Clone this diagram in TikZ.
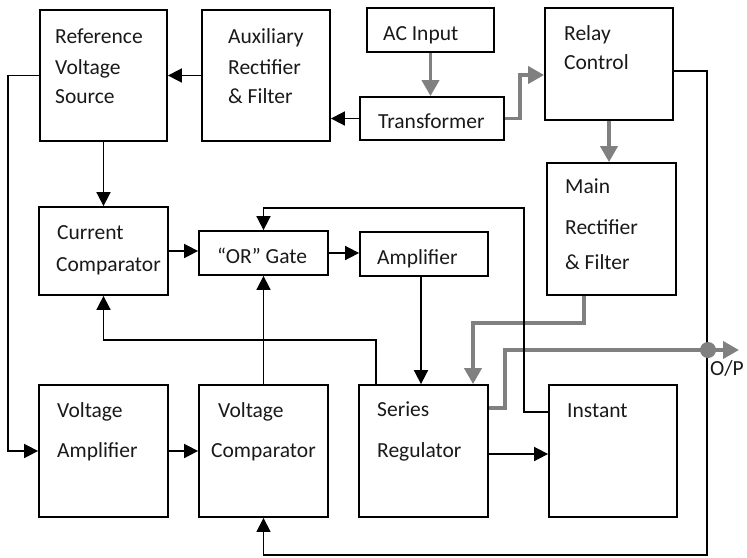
\documentclass[tikz,border=0pt]{standalone}
\usepackage{fontspec}
\setmainfont{Carlito}
\usetikzlibrary{arrows.meta}
\definecolor{pgray}{HTML}{808080}
\tikzset{
  blk/.style 2 args={draw=black, line width=1.8pt, minimum width=#1, minimum height=#2, inner sep=0pt, rectangle},
  txt/.style={anchor=base west, inner sep=0pt, font=\fontsize{21.5}{24}\selectfont, text=black!90},
  wire/.style={draw=black, line width=1.7pt, -{Triangle[length=14pt,width=14pt]}},
  thin/.style={draw=black, line width=1.3pt, -{Triangle[length=14pt,width=14pt]}},
  gwire/.style={draw=pgray, line width=3.8pt, -{Triangle[length=16pt,width=17pt]}},
}
\begin{document}
\begin{tikzpicture}[x=1pt,y=-1pt]
\useasboundingbox (0,0) rectangle (747,557);
% boxes
\node[blk={127}{131}] (ref) at (103.5,75.5) {};
\node[blk={128}{131}] (aux) at (266,75.5) {};
\node[blk={127}{44}] (ac) at (430.5,30) {};
\node[blk={144}{43}] (tr) at (432,118.5) {};
\node[blk={128}{112}] (rc) at (609,64) {};
\node[blk={129}{132}] (mr) at (611.5,229) {};
\node[blk={129}{88}] (cc) at (103.5,251) {};
\node[blk={129}{44}] (or) at (263.5,253) {};
\node[blk={128}{44}] (amp) at (424,254) {};
\node[blk={129}{132}] (va) at (103.5,451) {};
\node[blk={129}{132}] (vc) at (263.5,451) {};
\node[blk={129}{132}] (sr) at (423.5,451) {};
\node[blk={128}{132}] (inst) at (613,451) {};
% texts
\node[txt] (t1) at (55,43) {Reference};
\node[txt] (t2) at (55,74) {Voltage};
\node[txt] (t3) at (55,103) {Source};
\node[txt] (t4) at (228,43) {Auxiliary};
\node[txt] (t5) at (228,74) {Rectifier};
\node[txt] (t6) at (228,103) {\& Filter};
\node[txt] (t7) at (383,40) {AC Input};
\node[txt] (t8) at (378,128) {Transformer};
\node[txt] (t9) at (564,40) {Relay};
\node[txt] (t10) at (564,69) {Control};
\node[txt] (t11) at (565,193) {Main};
\node[txt] (t12) at (565,234) {Rectifier};
\node[txt] (t13) at (565,269) {\& Filter};
\node[txt] (t14) at (57,239) {Current};
\node[txt] (t15) at (56,271) {Comparator};
\node[txt] (t16) at (217,263) {“OR” Gate};
\node[txt] (t17) at (377,264) {Amplifier};
\node[txt] (t18) at (57,417) {Voltage};
\node[txt] (t19) at (57,457) {Amplifier};
\node[txt] (t20) at (218,417) {Voltage};
\node[txt] (t21) at (211,457) {Comparator};
\node[txt] (t22) at (377,416) {Series};
\node[txt] (t23) at (377,457) {Regulator};
\node[txt] (t24) at (567,417) {Instant};
\node[txt] (t25) at (710,375) {O/P};
% gray power lines
\coordinate (dot) at (708,350);
\coordinate (opEnd) at (739,350);
\draw[gwire] (ac.south) -- (ac.south |- tr.north);
\draw[gwire] (tr.east) -- (520,118.5) -- (520,75) -- (rc.west |- 520,75);
\draw[gwire] (rc.south) -- (rc.south |- mr.north);
\draw[gwire] (mr.south -| 584,0) -- (584,323) -- (473,323) -- (sr.north -| 473,0);
\draw[gwire] (sr.east |- 0,408) -- (505,408) -- (505,350) -- (opEnd);
% black connectors
\draw[wire] (aux.west) -- (ref.east);
\draw[wire] (tr.west) -- (aux.east |- tr.west);
\draw[thin] (rc.east |- 0,71) -- (707,71) -- (707,555) -- (263.5,555) -- (vc.south);
\draw[wire] (ref.west) -- (8,75.5) -- (8,451) -- (va.west);
\draw[wire] (ref.south) -- (cc.north);
\draw[wire] (cc.east) -- (cc.east -| or.west);
\draw[wire] (or.east) -- (or.east -| amp.west);
\draw[wire] (amp.south -| 421,0) -- (sr.north -| 421,0);
\draw[wire] (inst.west |- 0,412) -- (524,412) -- (524,208) -- (263.5,208) -- (or.north);
\draw[wire] (sr.north -| 376,0) -- (376,340) -- (103.5,340) -- (cc.south);
\draw[wire] (vc.north) -- (or.south);
\draw[wire] (va.east) -- (vc.west);
\draw[wire] (sr.east |- 0,454) -- (inst.west |- 0,454);
\fill[pgray] (dot) circle (8);
\end{tikzpicture}
\end{document}
